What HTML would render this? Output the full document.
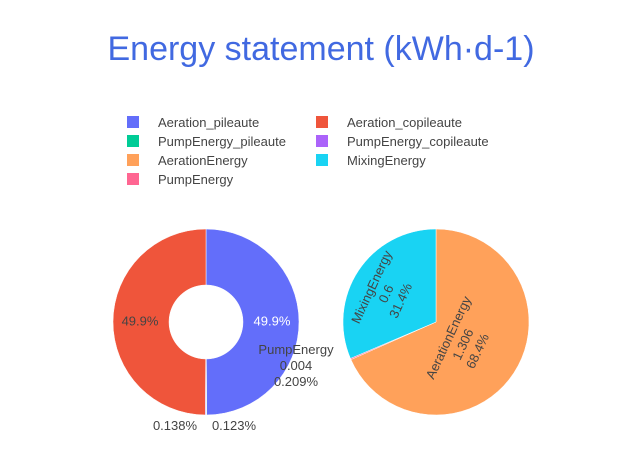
<!DOCTYPE html>
<html><head><meta charset="utf-8"><style>
body{margin:0;background:#fff}
svg{display:block;font-family:"Liberation Sans",sans-serif}
</style></head><body>
<svg id="c" width="639" height="455">
<text x="321" y="60" text-anchor="middle" font-size="34" fill="#4169e1">Energy statement (kWh·d-1)</text>
<g id="legend"></g>
<g id="p1"></g>
<g id="p2"></g>
</svg>
<script>
const legendLabels=["Aeration_pileaute","Aeration_copileaute","PumpEnergy_pileaute","PumpEnergy_copileaute","AerationEnergy","MixingEnergy","PumpEnergy"];
const legendColors=["#636efa","#ef553b","#00cc96","#ab63fa","#ffa15a","#19d3f3","#ff6692"];
const pie1Labels=["Aeration_pileaute","PumpEnergy_pileaute","PumpEnergy_copileaute","Aeration_copileaute"];
const pie1Values=[0.953,0.00235,0.00264,0.953];
const pie1Colors=["#636efa","#00cc96","#ab63fa","#ef553b"];
const pie2Labels=["AerationEnergy","PumpEnergy","MixingEnergy"];
const pie2Values=[1.306,0.004,0.6];
const pie2Colors=["#ffa15a","#ff6692","#19d3f3"];
const NS="http://www.w3.org/2000/svg";
function mk(t,a,p){const e=document.createElementNS(NS,t);for(const k in a)e.setAttribute(k,a[k]);p.appendChild(e);return e;}
const lg=document.getElementById('legend');
legendLabels.forEach((l,i)=>{const col=i%2,row=Math.floor(i/2);const x=col?322:133,y=122+row*19;
 const r=mk('rect',{x:x-6,y:y-6,width:12,height:12,fill:legendColors[i]},lg);
 
 
 const t=mk('text',{x:x+25,y:y+5,'font-size':13,fill:'#444'},lg);t.textContent=l;
 
 });
function pt(cx,cy,r,a){return[cx+r*Math.sin(a),cy-r*Math.cos(a)];}
function pie(g,vals,cols,cx,cy,R,h){const tot=vals.reduce((a,b)=>a+b,0);let a0=0;const out=[];
 vals.forEach((v,i)=>{const a1=a0+v/tot*2*Math.PI;const [x0,y0]=pt(cx,cy,R,a0),[x1,y1]=pt(cx,cy,R,a1);const lf=(a1-a0)>Math.PI?1:0;
  let d;if(h){const [x2,y2]=pt(cx,cy,h,a1),[x3,y3]=pt(cx,cy,h,a0);d=`M${x0},${y0}A${R},${R} 0 ${lf} 1 ${x1},${y1}L${x2},${y2}A${h},${h} 0 ${lf} 0 ${x3},${y3}Z`;}
  else d=`M${cx},${cy}L${x0},${y0}A${R},${R} 0 ${lf} 1 ${x1},${y1}Z`;
  const p=mk('path',{d,fill:cols[i],stroke:'#fff','stroke-width':0.5},g);
  
  
  out.push({a0,a1,mid:(a0+a1)/2,pct:v/tot*100,v});a0=a1;});return out;}
function txt(g,s,x,y,fill,rot,name){const t=mk('text',{x,y,'text-anchor':'middle','font-size':13,fill},g);t.textContent=s;if(rot)t.setAttribute('transform',`rotate(${rot} ${x} ${y})`);
 
 return t;}
const g1=document.getElementById('p1'),g2=document.getElementById('p2');
const s1=pie(g1,pie1Values,pie1Colors,206,322,93,37);
const f=p=>p>=1?p.toFixed(1)+'%':p.toPrecision(3)+'%';
let [x,y]=pt(206,322,66,s1[0].mid);txt(g1,f(s1[0].pct),x,y+4,'#fff',0,'slice-label');
[x,y]=pt(206,322,66,s1[3].mid);txt(g1,f(s1[3].pct),x,y+4,'#444',0,'slice-label');
txt(g1,f(s1[1].pct),234,430,'#444',0,'slice-label');
txt(g1,f(s1[2].pct),175,430,'#444',0,'slice-label');
const s2=pie(g2,pie2Values,pie2Colors,436,322,93,0);
const lines=(s,i)=>[pie2Labels[i],String(s.v),f(s.pct)];
[[0,37],[2,55]].forEach(([i,r])=>{const s=s2[i];const [cx,cy]=pt(436,322,r,s.mid);
 lines(s,i).forEach((l,k)=>{const off=(k-1)*16;const ang=-65*Math.PI/180;
  const tx=cx-off*Math.sin(ang),ty=cy+off*Math.cos(ang);
  txt(g2,l,tx,ty+4,'#444',-65,'slice-label');});});
const ps=s2[1];lines(ps,1).forEach((l,k)=>txt(g2,l,296,354+k*16,'#444',0,'outside-label'));
</script>
</body></html>
